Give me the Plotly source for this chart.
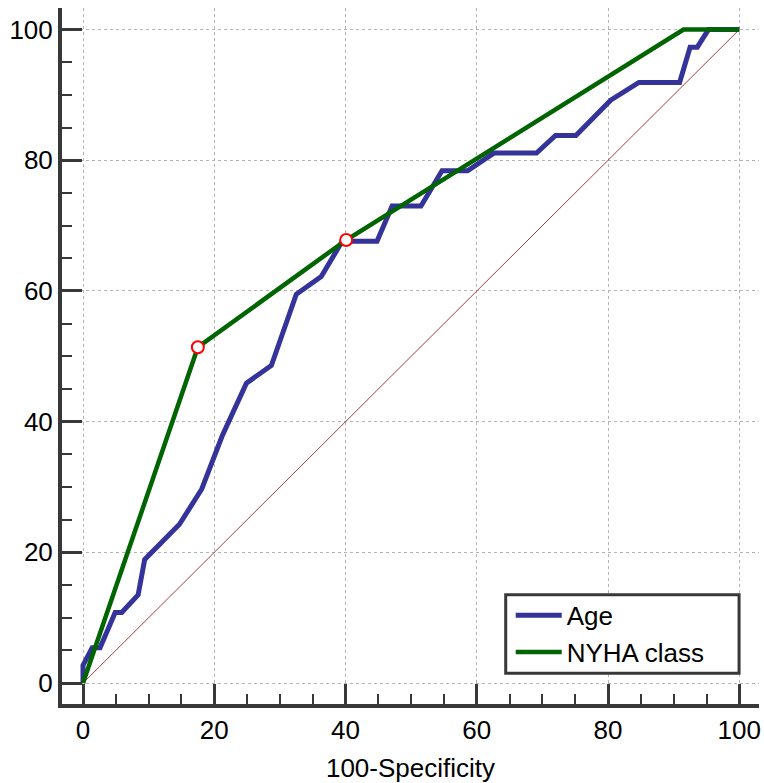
import plotly.graph_objects as go

# Data
age_fpr = [0, 0, 1.4, 2.6, 4.9, 5.9, 8.4, 9.4, 14.7, 18.1, 21.2, 24.9, 28.7, 32.5, 36.3, 39.5,
           44.8, 47.1, 51.5, 54.7, 58.6, 62.6, 69.1, 72.0, 75.1, 77.8, 80.4, 84.7, 90.9, 92.5,
           93.6, 95.3, 100]
age_tpr = [0, 2.7, 5.4, 5.4, 10.8, 10.8, 13.5, 18.9, 24.3, 29.7, 37.8, 45.9, 48.6, 59.5, 62.2,
           67.6, 67.6, 73.0, 73.0, 78.4, 78.4, 81.1, 81.1, 83.8, 83.8, 86.5, 89.2, 91.9, 91.9,
           97.3, 97.3, 100, 100]
nyha_fpr = [0, 17.5, 40.1, 91.5, 100]
nyha_tpr = [0, 51.4, 67.8, 100, 100]
crit_fpr = [17.5, 40.1]
crit_tpr = [51.4, 67.8]
diag = [0, 100]
tick_vals = [0, 20, 40, 60, 80, 100]

FONT = "Liberation Sans, Arial, Helvetica, sans-serif"
AX = "#383838"
FS = 26

fig = go.Figure()
fig.add_trace(go.Scatter(x=diag, y=diag, mode="lines", showlegend=False,
                         line=dict(color="#a04040", width=1), hoverinfo="skip"))
fig.add_trace(go.Scatter(x=age_fpr, y=age_tpr, mode="lines", name="Age",
                         line=dict(color="#333399", width=5)))
fig.add_trace(go.Scatter(x=nyha_fpr, y=nyha_tpr, mode="lines", name="NYHA class",
                         line=dict(color="#006400", width=4.5)))
fig.add_trace(go.Scatter(x=crit_fpr, y=crit_tpr, mode="markers", showlegend=False,
                         marker=dict(symbol="circle", size=12, color="white",
                                     line=dict(color="#ff0000", width=2))))

axis_common = dict(
    showline=True, linecolor=AX, linewidth=4, mirror=False,
    ticks="inside", ticklen=20, tickwidth=3, tickcolor=AX,
    tickvals=tick_vals, ticktext=[str(v) for v in tick_vals],
    showgrid=True, gridcolor="#b4b4b4", gridwidth=1, griddash="dot",
    zeroline=False,
    tickfont=dict(family=FONT, size=FS, color="black"),
    minor=dict(ticks="inside", ticklen=10, tickwidth=2, tickcolor=AX, dtick=5,
               tick0=0, showgrid=False),
)

# legend frame drawn as a shape (paper coordinates)
fig.add_shape(type="rect", xref="paper", yref="paper",
              x0=0.6366, x1=0.9714, y0=0.0443, y1=0.1571,
              line=dict(color=AX, width=3), fillcolor="white", layer="above")

fig.update_layout(
    width=764, height=783,
    margin=dict(l=62, r=3, t=8, b=75),
    paper_bgcolor="white", plot_bgcolor="white",
    xaxis=dict(range=[-3.2, 103.0],
               title=dict(text="100-Specificity", font=dict(family=FONT, size=FS, color="black"),
                          standoff=17),
               **axis_common),
    yaxis=dict(range=[-3.2, 103.3], **axis_common),
    legend=dict(x=0.6438, y=0.1007, xanchor="left", yanchor="middle",
                borderwidth=0, bgcolor="rgba(0,0,0,0)",
                font=dict(family=FONT, size=FS, color="black"),
                tracegroupgap=0, itemwidth=46),
    showlegend=True,
)

fig.write_html("out.html", config={"displayModeBar": False},
               post_script="document.body.style.margin='0';document.body.style.overflow='hidden';")
